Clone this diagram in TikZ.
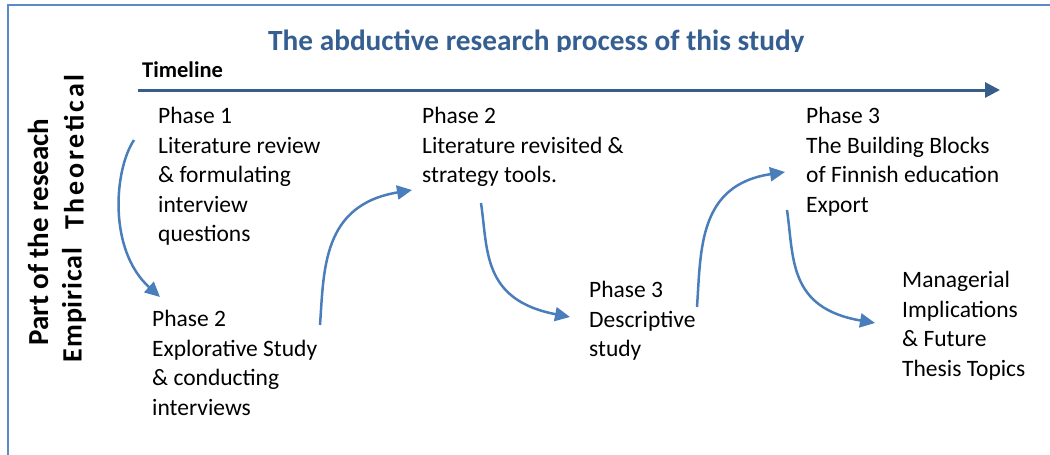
\documentclass[tikz,border=0pt]{standalone}
\usepackage{fontspec}
\setmainfont{Carlito}
\usetikzlibrary{arrows.meta}
\definecolor{framec}{HTML}{5B8AC6}
\definecolor{titlec}{HTML}{365F91}
\definecolor{timec}{HTML}{385D8A}
\definecolor{flowc}{HTML}{4A7EBB}

\begin{document}
\begin{tikzpicture}[x=1pt,y=-1pt,
      phase/.style={anchor=north west,align=left,inner sep=0pt,font=\fontsize{23.5}{29.5}\selectfont},
      side/.style={rotate=90,inner sep=0pt,font=\fontsize{28}{30}\selectfont\bfseries},
      flow/.style={draw=flowc,line width=2.5pt,-{Triangle[length=15pt,width=14pt]}}]
   \useasboundingbox (0,0) rectangle (1050,455);
   \draw[framec,line width=2pt] (7.5,455) -- (7.5,5) -- (1050,5);

   \begin{scope}
      \clip (0,0) rectangle (1050,51);
      \node[anchor=base west,inner sep=0pt,text=titlec,font=\fontsize{29.3}{35}\selectfont\bfseries] (title) at (268,50) {The abductive research process of this study};
   \end{scope}

   \node[anchor=base west,inner sep=0pt,font=\fontsize{22.5}{26}\selectfont\bfseries] (timeline) at (142,77) {Timeline};
   \coordinate (tstart) at (138,90);
   \coordinate (tend) at (1000,90);
   \draw[timec,line width=3pt,-{Triangle[length=15pt,width=15pt]}] (tstart) -- (tend);

   \node[side,font=\fontsize{29}{30}\selectfont\bfseries] (part) at (38,232) {Part of the reseach};
   \node[side] (theo) at (74,152) {\addfontfeature{LetterSpace=10}Theoretical};
   \node[side] (emp) at (74,305) {\addfontfeature{LetterSpace=3}Empirical};

   \node[phase] (p1) at (158,107) {Phase 1\\Literature review\\\& formulating\\interview\\questions};
   \node[phase] (p2a) at (152,310) {Phase 2\\Explorative Study\\\& conducting\\interviews};
   \node[phase] (p2b) at (422,107) {Phase 2\\Literature revisited \&\\strategy tools.};
   \node[phase] (p3a) at (589,281) {Phase 3\\Descriptive\\study};
   \node[phase] (p3b) at (806,107) {Phase 3\\The Building Blocks\\of Finnish education\\Export};
   \node[phase] (mgr) at (902,271) {Managerial\\Implications\\\& Future\\Thesis Topics};

   \coordinate (a1s) at (134,140);  \coordinate (a1e) at (160,297);
   \coordinate (a2s) at (320,325);  \coordinate (a2e) at (412,190);
   \coordinate (a3s) at (481,203);  \coordinate (a3e) at (570,317);
   \coordinate (a4s) at (697,307);  \coordinate (a4e) at (785,172);
   \coordinate (a5s) at (787,210);  \coordinate (a5e) at (875,323);
   \draw[flow] (a1s) .. controls (114,170) and (108,250) .. (a1e);
   \draw[flow] (a2s) .. controls (324,270) and (322,205) .. (a2e);
   \draw[flow] (a3s) .. controls (488,250) and (482,300) .. (a3e);
   \draw[flow] (a4s) .. controls (701,250) and (698,185) .. (a4e);
   \draw[flow] (a5s) .. controls (794,258) and (788,308) .. (a5e);
\end{tikzpicture}
\end{document}
